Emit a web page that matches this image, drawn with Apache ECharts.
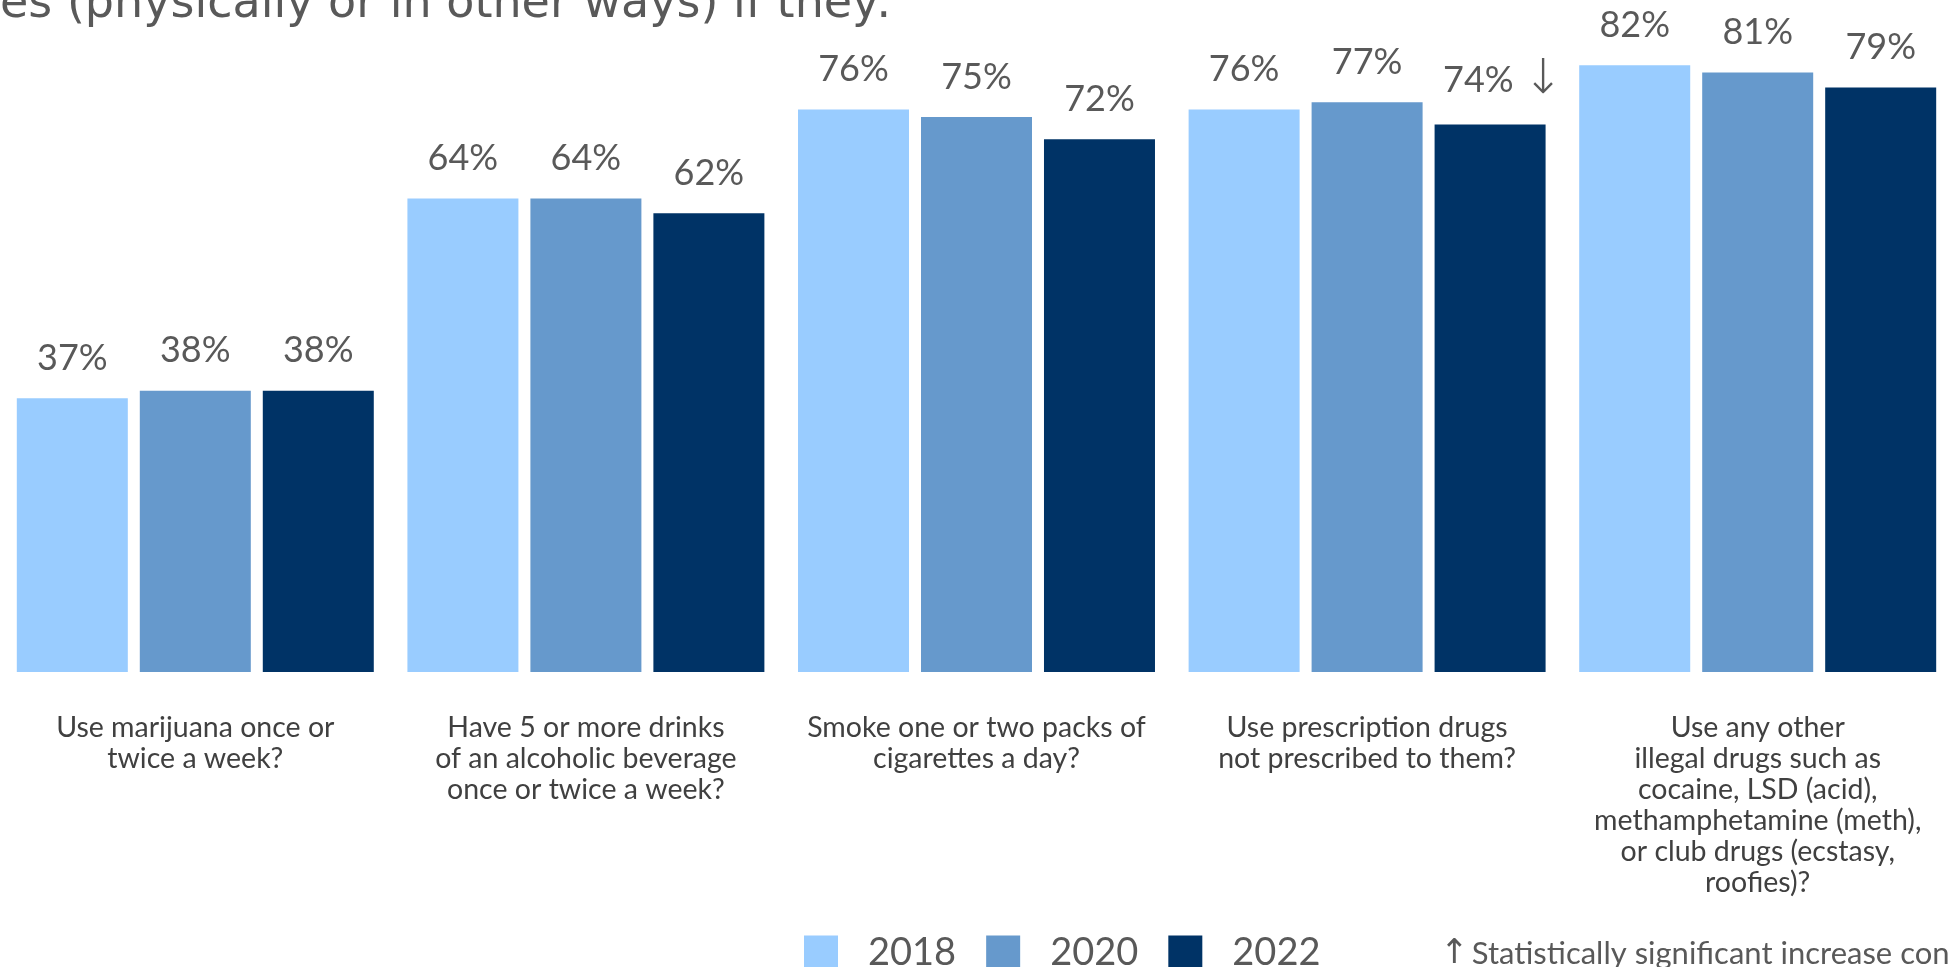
<!DOCTYPE html>
<html>
<head>
<meta charset="utf-8">
<script src="https://cdn.jsdelivr.net/npm/echarts@6/dist/echarts.min.js"></script>
<style>
  html, body { margin: 0; padding: 0; background: #ffffff; }
  #chart { width: 1949px; height: 967px; }
</style>
</head>
<body>
<div id="chart"></div>
<script>
// Survey categories (axis labels, pre-wrapped)
const categories = [
  'Use marijuana once or\ntwice a week?',
  'Have 5 or more drinks\nof an alcoholic beverage\nonce or twice a week?',
  'Smoke one or two packs of\ncigarettes a day?',
  'Use prescription drugs\nnot prescribed to them?',
  'Use any other\nillegal drugs such as\ncocaine, LSD (acid),\nmethamphetamine (meth),\nor club drugs (ecstasy,\nroofies)?'
];

// Legend / series names
const years = ['2018', '2020', '2022'];

// Percent values per year
const values2018 = [37, 64, 76, 76, 82];
const values2020 = [38, 64, 75, 77, 81];
const values2022 = [38, 62, 72, 74, 79];

// Significance markers for 2022 versus 2020
const marks2022 = ['', '', '', 'down', ''];

const colors = ['#99CCFF', '#6699CC', '#003366'];
const labelGrey = '#595959';

const chart = echarts.init(document.getElementById('chart'), null, { renderer: 'canvas' });

const valueRich = {
  v: { fontFamily: 'Lato', fontSize: 36, color: labelGrey },
  a: { fontFamily: '"DejaVu Sans"', fontSize: 48, fontWeight: 'lighter', color: labelGrey }
};

function makeSeries(name, values, color, marks) {
  return {
    name: name,
    type: 'bar',
    barWidth: 111,
    barGap: '10.8%',
    itemStyle: { color: color },
    label: {
      show: true,
      position: 'top',
      distance: 22,
      color: labelGrey,
      formatter: function (p) {
        const m = marks ? marks[p.dataIndex] : '';
        if (m === 'down') return '{v|' + p.value + '% }{a|\u2193}';
        if (m === 'up') return '{v|' + p.value + '% }{a|\u2191}';
        return '{v|' + p.value + '%}';
      },
      rich: valueRich
    },
    data: values.map(function (v, i) {
      const item = { value: v };
      if (marks && marks[i]) item.label = { offset: [13, 2] };
      return item;
    })
  };
}

const option = {
  backgroundColor: '#ffffff',
  animation: false,
  grid: {
    left: 0,
    right: -4,
    top: 6,
    bottom: 295,
    containLabel: false,
    outerBoundsMode: 'none'
  },
  legend: {
    data: years,
    icon: 'rect',
    left: 799,
    top: 929,
    itemWidth: 34,
    itemHeight: 35,
    itemGap: 30,
    textStyle: {
      fontFamily: 'Lato',
      fontSize: 38,
      color: labelGrey,
      padding: [0, 0, 0, 25]
    }
  },
  xAxis: {
    type: 'category',
    data: categories,
    axisLine: { show: false },
    axisTick: { show: false },
    axisLabel: {
      interval: 0,
      margin: 40,
      fontFamily: 'Lato',
      fontSize: 28.5,
      lineHeight: 31,
      color: '#404040',
      align: 'center'
    }
  },
  yAxis: {
    type: 'value',
    min: 0,
    max: 90,
    show: false,
    splitLine: { show: false }
  },
  graphic: [
    {
      type: 'text',
      x: 0,
      y: 28,
      silent: true,
      style: {
        text: 'es (physically or in other ways) if they:',
        font: '46px "DejaVu Sans"',
        fill: labelGrey,
        verticalAlign: 'bottom'
      }
    },
    {
      type: 'text',
      x: 1440,
      y: 971,
      silent: true,
      style: {
        text: '{a|\u2191} {t|Statistically significant increase con}',
        fill: labelGrey,
        verticalAlign: 'bottom',
        rich: {
          a: { font: '34px "DejaVu Sans"', fill: labelGrey },
          t: { font: '31px Lato', fill: labelGrey }
        }
      }
    }
  ],
  series: [
    makeSeries(years[0], values2018, colors[0], null),
    makeSeries(years[1], values2020, colors[1], null),
    makeSeries(years[2], values2022, colors[2], marks2022)
  ]
};

chart.setOption(option);
</script>
</body>
</html>
